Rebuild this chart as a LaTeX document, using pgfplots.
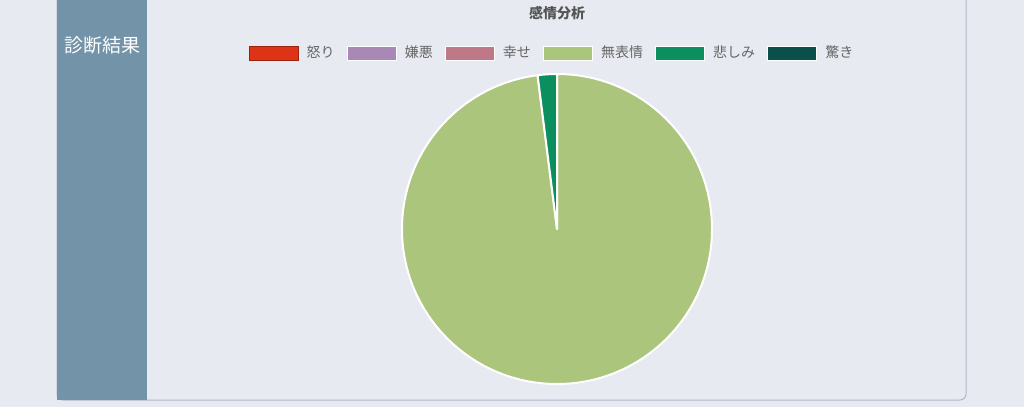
\documentclass[border=0pt]{standalone}
\usepackage{pgfplots}
\usepackage{pgfplotstable}
\pgfplotsset{compat=1.18}
\usepackage{fontspec}
\setmainfont{Noto Sans CJK JP}

\definecolor{bg}{HTML}{E8EAF2}
\definecolor{panelborder}{HTML}{AEB6C6}
\definecolor{sidebar}{HTML}{7393A8}
\definecolor{titlegray}{HTML}{555555}
\definecolor{legendgray}{HTML}{666666}
\definecolor{cAnger}{HTML}{DD3417}
\definecolor{cDisgust}{HTML}{A888B5}
\definecolor{cHappy}{HTML}{BF7887}
\definecolor{cNeutral}{HTML}{ABC57D}
\definecolor{cSad}{HTML}{0B8F5F}
\definecolor{cSurprise}{HTML}{0B4F49}

\pgfplotstableread{
idx value color
0 0 cAnger
1 0 cDisgust
2 0 cHappy
3 98 cNeutral
4 2 cSad
5 0 cSurprise
}\emotions

\pgfplotsset{mybox/.style={legend image code/.code={\draw[##1] (0pt,-5.25pt) rectangle (36.75pt,5.25pt);}}}

\begin{document}
\begin{tikzpicture}
\begin{scope}[x=0.75pt,y=-0.75pt]
\useasboundingbox (0,0) rectangle (1024,407);
\clip (0,0) rectangle (1024,407);
\fill[bg] (0,0) rectangle (1024,407);
\draw[panelborder, fill=bg, line width=0.75pt, rounded corners=4.5pt] (57,-20) rectangle (966,400);
\fill[sidebar] (57,-20) rectangle (147,400.4);
\node[text=white, font=\fontsize{14.25}{16}\selectfont] at (102,45) {診断結果};
\node[text=titlegray, font=\bfseries\fontsize{10.5}{12}\selectfont] at (557,13) {感情分析};
\end{scope}
\begin{axis}[
  at={(417.75pt,-171.75pt)}, anchor=origin,
  width=232.5pt, height=232.5pt, scale only axis,
  xmin=-1, xmax=1, ymin=-1, ymax=1,
  hide axis, clip=false,
  legend columns=6,
  legend style={at={(0.5,1)}, anchor=center, xshift=-4.5pt, yshift=15.75pt,
    draw=none, fill=none, text=legendgray,
    font=\fontsize{10.5}{12}\selectfont,
    nodes={inner sep=0pt},
    /tikz/every odd column/.append style={column sep=6.25pt},
    /tikz/every even column/.append style={column sep=9pt}},
]
\addlegendimage{mybox, fill=cAnger, draw=cAnger!70!black, line width=0.5pt}
\addlegendentry{怒り}
\addlegendimage{mybox, fill=cDisgust, draw=white, line width=0.6pt}
\addlegendentry{嫌悪}
\addlegendimage{mybox, fill=cHappy, draw=white, line width=0.6pt}
\addlegendentry{幸せ}
\addlegendimage{mybox, fill=cNeutral, draw=white, line width=0.6pt}
\addlegendentry{無表情}
\addlegendimage{mybox, fill=cSad, draw=white, line width=0.6pt}
\addlegendentry{悲しみ}
\addlegendimage{mybox, fill=cSurprise, draw=white, line width=0.6pt}
\addlegendentry{驚き}
\pgfplotsextra{
  \def\cum{0}
  \pgfplotsforeachungrouped \i in {0,...,5}{
    \pgfplotstablegetelem{\i}{value}\of\emotions
    \pgfmathsetmacro\val{\pgfplotsretval}
    \pgfplotstablegetelem{\i}{color}\of\emotions
    \edef\col{\pgfplotsretval}
    \pgfmathsetmacro\a{90-3.6*\cum}
    \pgfmathsetmacro\b{90-3.6*(\cum+\val)}
    \ifdim\val pt>0pt
      \filldraw[fill=\col, draw=white, line width=1.5pt, line join=round]
        (axis cs:0,0) -- (axis cs:{cos(\a)},{sin(\a)})
        arc[start angle=\a, end angle=\b, radius=116.25pt] -- cycle;
    \fi
    \pgfmathsetmacro\cum{\cum+\val}
  }
}
\end{axis}
\end{tikzpicture}
\end{document}
